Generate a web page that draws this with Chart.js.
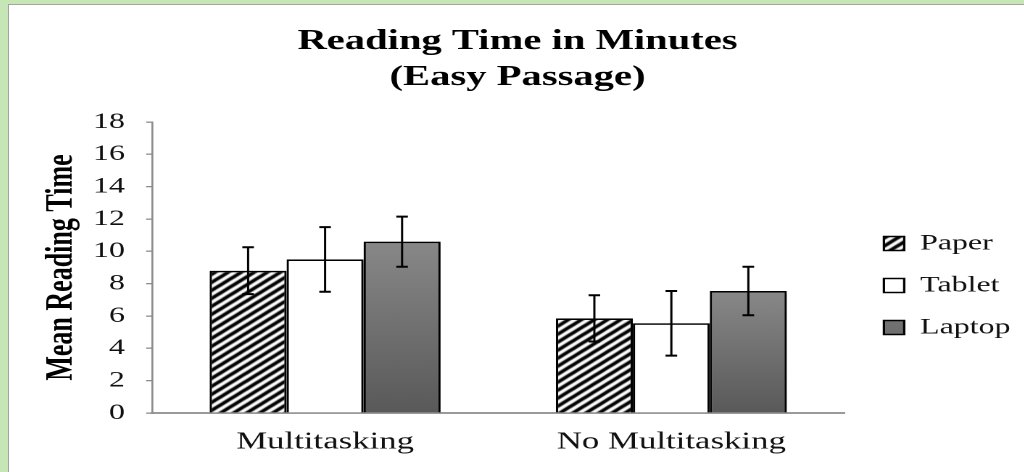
<!DOCTYPE html>
<html>
<head>
<meta charset="utf-8">
<script src="https://cdn.jsdelivr.net/npm/chart.js@4.4.1/dist/chart.umd.min.js"></script>
<style>
  html, body { margin: 0; padding: 0; width: 1024px; height: 472px; overflow: hidden; background: #c6e6b5; }
  #frame { position: absolute; left: 8px; top: 4px; width: 1016px; height: 468px; background: #ffffff;
           border-left: 1px solid #a3a3a3; border-top: 1px solid #a3a3a3; }
  #stretch { position: absolute; left: 10px; top: 6px; width: 700px; height: 466px;
             transform: scaleX(1.45); transform-origin: 0 0; }
</style>
</head>
<body>
<div id="frame"></div>
<div id="stretch"><canvas id="c"></canvas></div>
<script>
// ---- data ----
const categories = ['Multitasking', 'No Multitasking'];
const seriesNames = ['Paper', 'Tablet', 'Laptop'];
const paperMeans  = [8.8, 5.85];
const tabletMeans = [9.5, 5.55];
const laptopMeans = [10.6, 7.55];
const paperErrors  = [1.45, 1.43];
const tabletErrors = [2.0, 2.0];
const laptopErrors = [1.55, 1.5];
const yMin = 0, yMax = 18, yStep = 2;
const chartTitle = ['Reading Time in Minutes', '(Easy Passage)'];
const yTitle = 'Mean Reading Time';

const serif = "'Liberation Serif', 'Times New Roman', serif";

function makeHatch() {
  const w = 9, h = 8;
  const cv = document.createElement('canvas');
  cv.width = w; cv.height = h;
  const c = cv.getContext('2d');
  c.fillStyle = '#ffffff';
  c.fillRect(0, 0, w, h);
  c.strokeStyle = '#000000';
  c.lineWidth = 3.1;
  c.beginPath();
  for (let k = -1; k <= 1; k++) {
    c.moveTo(k * w - w, 2 * h);
    c.lineTo(k * w + 2 * w, -h);
  }
  c.stroke();
  return c.createPattern(cv, 'repeat');
}
const hatch = makeHatch();

function laptopFill(ctx) {
  const chart = ctx.chart;
  if (ctx.type !== 'data' || !chart.chartArea || !chart.scales.y) return '#707070';
  const ys = chart.scales.y;
  const top = ys.getPixelForValue(ctx.raw);
  const bot = ys.getPixelForValue(0);
  const g = chart.ctx.createLinearGradient(0, top, 0, bot);
  g.addColorStop(0, '#888888');
  g.addColorStop(1, '#595959');
  return g;
}

const errorBars = {
  id: 'errorBars',
  beforeDatasetsDraw(chart) {
    const c = chart.ctx;
    c.save();
    c.shadowColor = 'rgba(0,0,0,0.35)';
    c.shadowBlur = 6;
    c.shadowOffsetX = 3;
    c.shadowOffsetY = 3;
  },
  afterDatasetsDraw(chart) {
    const c = chart.ctx;
    c.restore();
    const ys = chart.scales.y;
    c.save();
    c.strokeStyle = '#000000';
    chart.data.datasets.forEach((ds, i) => {
      const meta = chart.getDatasetMeta(i);
      meta.data.forEach((bar, j) => {
        const v = ds.data[j], e = ds.errors[j];
        const top = ys.getPixelForValue(v + e);
        const bot = ys.getPixelForValue(v - e);
        c.lineWidth = 1.5;
        c.beginPath();
        c.moveTo(bar.x, top); c.lineTo(bar.x, bot);
        c.stroke();
        c.lineWidth = 2;
        c.beginPath();
        c.moveTo(bar.x - 4, top); c.lineTo(bar.x + 4, top);
        c.moveTo(bar.x - 4, bot); c.lineTo(bar.x + 4, bot);
        c.stroke();
      });
    });
    c.restore();
  }
};

new Chart(document.getElementById('c'), {
  type: 'bar',
  data: {
    labels: categories,
    datasets: [
      { label: seriesNames[0], data: paperMeans, errors: paperErrors,
        backgroundColor: hatch, borderColor: '#000000', borderWidth: 1.6 },
      { label: seriesNames[1], data: tabletMeans, errors: tabletErrors,
        backgroundColor: '#ffffff', borderColor: '#000000', borderWidth: 1.6 },
      { label: seriesNames[2], data: laptopMeans, errors: laptopErrors,
        backgroundColor: laptopFill, borderColor: '#000000', borderWidth: 1.6 }
    ]
  },
  options: {
    responsive: true,
    maintainAspectRatio: false,
    devicePixelRatio: 2,
    animation: false,
    layout: { padding: 0 },
    datasets: { bar: { categoryPercentage: 0.667, barPercentage: 1.0 } },
    scales: {
      x: {
        grid: { display: false, drawTicks: false },
        border: { color: '#9a9a9a', width: 2 },
        ticks: { font: { family: serif, size: 24 }, color: '#111111', padding: 15 },
        afterFit: s => { s.height = 59; }
      },
      y: {
        min: yMin, max: yMax,
        ticks: { stepSize: yStep, font: { family: serif, size: 22 }, color: '#111111', padding: 14.6 },
        grid: { drawOnChartArea: false, drawTicks: true, tickLength: 4, color: '#8c8c8c', lineWidth: 1.3 },
        border: { color: '#8c8c8c', width: 1.3 },
        title: { display: true, text: yTitle, color: '#000000',
                 font: { family: serif, size: 26, weight: 'bold', lineHeight: 1.2 },
                 padding: { top: 20.4, bottom: 0 } },
        afterFit: s => { s.width = 97.9; }
      },
      y2: {
        position: 'right',
        grid: { display: false, drawTicks: false },
        border: { display: false },
        ticks: { display: false },
        afterFit: s => { s.width = 7.2; }
      }
    },
    plugins: {
      title: {
        display: true, text: chartTitle, color: '#000000',
        font: { family: serif, size: 28, weight: 'bold', lineHeight: 36 / 28 },
        padding: { top: 18, bottom: 26 }
      },
      legend: {
        position: 'right',
        align: 'center',
        maxWidth: 119,
        title: { display: true, text: '', font: { size: 12, lineHeight: 1.2 }, padding: { top: 78.6, bottom: 0 } },
        labels: { boxWidth: 14, boxHeight: 14, padding: 20, color: '#111111',
                  font: { family: serif, size: 22 } }
      },
      tooltip: { enabled: false }
    }
  },
  plugins: [errorBars]
});
</script>
</body>
</html>
